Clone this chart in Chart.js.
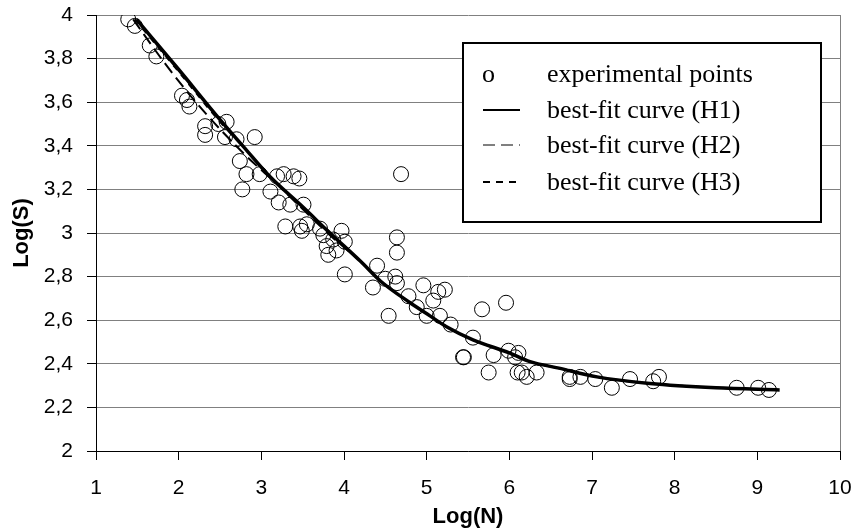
<!DOCTYPE html>
<html>
<head>
<meta charset="utf-8">
<script src="https://cdn.jsdelivr.net/npm/chart.js@4.4.1/dist/chart.umd.min.js"></script>
<style>
  body { margin: 0; background: #fff; }
  #wrap { width: 855px; height: 531px; position: relative; }
</style>
</head>
<body>
<div id="wrap"><canvas id="fatigueChart"></canvas></div>
<script>
// experimental points
var pointsN = [1.39, 1.47, 1.65, 1.73, 2.04, 2.10, 2.13, 2.32, 2.32, 2.48, 2.58, 2.56, 2.70, 2.92,
  2.74, 2.82, 2.98, 2.77, 3.19, 3.27, 3.39, 3.46, 3.11, 3.21, 3.35, 3.51, 3.29, 3.47, 3.49, 3.55,
  3.71, 3.75, 3.87, 3.97, 4.01, 3.79, 3.81, 3.91, 4.01, 4.40, 4.35, 4.69, 4.64, 4.64, 4.50, 4.62,
  4.64, 4.96, 4.78, 4.88, 5.08, 5.14, 5.22, 4.54, 5.00, 5.16, 5.29, 5.67, 5.96, 5.56, 5.44, 5.45,
  5.75, 5.81, 5.99, 6.11, 6.07, 6.10, 6.15, 6.21, 6.33, 6.73, 6.73, 6.86, 7.04, 7.24, 7.46, 7.74,
  7.81, 8.75, 9.01, 9.14];
var pointsS = [3.98, 3.95, 3.86, 3.81, 3.63, 3.61, 3.58, 3.49, 3.45, 3.50, 3.51, 3.44, 3.43, 3.44,
  3.33, 3.27, 3.27, 3.20, 3.26, 3.27, 3.26, 3.25, 3.19, 3.14, 3.13, 3.13, 3.03, 3.03, 3.01, 3.04,
  3.02, 2.99, 2.97, 3.01, 2.96, 2.94, 2.90, 2.92, 2.81, 2.85, 2.75, 3.27, 2.98, 2.91, 2.79, 2.80,
  2.77, 2.76, 2.71, 2.66, 2.69, 2.73, 2.74, 2.62, 2.62, 2.62, 2.58, 2.65, 2.68, 2.52, 2.43, 2.43,
  2.36, 2.44, 2.46, 2.45, 2.43, 2.36, 2.36, 2.34, 2.36, 2.34, 2.33, 2.34, 2.33, 2.29, 2.33, 2.32,
  2.34, 2.29, 2.29, 2.28];

// best-fit curves
var h1N = [1.49, 2.0, 2.5, 2.82, 3.1, 3.5, 3.83, 4.2, 4.44, 4.8, 5.04, 5.24, 5.56, 6.0, 6.25, 6.6, 7.06, 7.7, 8.5, 9.27];
var h1S = [3.98, 3.75, 3.52, 3.38, 3.26, 3.12, 3.00, 2.87, 2.78, 2.68, 2.62, 2.57, 2.51, 2.45, 2.41, 2.38, 2.34, 2.31, 2.29, 2.28];
var h2N = [1.45, 1.85, 2.3, 2.8, 3.2, 3.5, 3.83, 4.2, 4.44, 4.8, 5.04, 5.24, 5.56, 6.0, 6.25, 6.6, 7.06, 7.7, 8.5, 9.25];
var h2S = [3.98, 3.77, 3.56, 3.36, 3.22, 3.11, 2.99, 2.87, 2.78, 2.68, 2.62, 2.57, 2.51, 2.45, 2.41, 2.38, 2.34, 2.31, 2.29, 2.28];
var h3N = [1.47, 2.0, 2.5, 2.82, 3.1, 3.5, 3.83, 4.2, 4.44, 4.8, 5.04, 5.24, 5.56, 6.0, 6.25, 6.6, 7.06, 7.7, 8.5, 9.25];
var h3S = [3.98, 3.74, 3.51, 3.38, 3.26, 3.12, 3.00, 2.87, 2.78, 2.68, 2.62, 2.57, 2.51, 2.45, 2.41, 2.38, 2.34, 2.31, 2.29, 2.28];

var xTickLabels = ['1', '2', '3', '4', '5', '6', '7', '8', '9', '10'];
var yTickLabels = ['2', '2,2', '2,4', '2,6', '2,8', '3', '3,2', '3,4', '3,6', '3,8', '4'];
var legendItems = ['experimental points', 'best-fit curve (H1)', 'best-fit curve (H2)', 'best-fit curve (H3)'];

function xy(xs, ys) {
  return xs.map(function (x, i) { return { x: x, y: ys[i] }; });
}

// legend box drawn inside the plot, like the original
var boxLegend = {
  id: 'boxLegend',
  afterDraw: function (chart) {
    var ctx = chart.ctx;
    ctx.save();
    ctx.fillStyle = '#fff';
    ctx.fillRect(463, 43, 358, 179);
    ctx.strokeStyle = '#000';
    ctx.lineWidth = 2;
    ctx.strokeRect(463, 43, 358, 179);
    ctx.fillStyle = '#000';
    ctx.font = '26px "Liberation Serif", "Times New Roman", serif';
    ctx.textBaseline = 'alphabetic';
    var baselines = [82, 118, 153, 190];
    ctx.fillText('o', 482, baselines[0]);
    for (var i = 0; i < legendItems.length; i++) {
      ctx.fillText(legendItems[i], 547, baselines[i]);
    }
    var dashes = [[], [12, 6], [7, 6]];
    var widths = [2, 1, 2];
    for (var j = 0; j < 3; j++) {
      ctx.beginPath();
      ctx.setLineDash(dashes[j]);
      ctx.lineWidth = widths[j];
      var ly = baselines[j + 1] - 8;
      ctx.moveTo(483, ly);
      ctx.lineTo(520, ly);
      ctx.stroke();
    }
    ctx.restore();
  }
};

var ctx = document.getElementById('fatigueChart').getContext('2d');
var chart = new Chart(ctx, {
  type: 'scatter',
  data: {
    datasets: [
      {
        label: legendItems[1],
        data: xy(h1N, h1S),
        showLine: true,
        borderColor: '#000',
        borderWidth: 3.5,
        pointRadius: 0,
        cubicInterpolationMode: 'monotone',
        order: 1
      },
      {
        label: legendItems[2],
        data: xy(h2N, h2S),
        showLine: true,
        borderColor: '#000',
        borderWidth: 2,
        borderDash: [12, 6],
        pointRadius: 0,
        cubicInterpolationMode: 'monotone',
        order: 2
      },
      {
        label: legendItems[3],
        data: xy(h3N, h3S),
        showLine: true,
        borderColor: '#000',
        borderWidth: 2,
        borderDash: [6, 6],
        pointRadius: 0,
        cubicInterpolationMode: 'monotone',
        order: 3
      },
      {
        label: legendItems[0],
        data: xy(pointsN, pointsS),
        showLine: false,
        pointStyle: 'circle',
        pointRadius: 7.5,
        pointBorderWidth: 1,
        pointBorderColor: '#000',
        pointBackgroundColor: 'rgba(0,0,0,0)',
        order: 4
      }
    ]
  },
  options: {
    responsive: true,
    maintainAspectRatio: false,
    animation: false,
    layout: { padding: { left: 0, right: 15, top: 15, bottom: 0 } },
    plugins: {
      legend: { display: false },
      tooltip: { enabled: false }
    },
    scales: {
      x: {
        type: 'linear',
        min: 1,
        max: 10,
        afterFit: function (s) { s.height = 80; s.paddingLeft = 0; s.paddingRight = 0; },
        border: { color: '#000', width: 1 },
        grid: {
          color: function (c) { return c.tick && c.tick.value === 10 ? '#808080' : 'rgba(0,0,0,0)'; },
          tickColor: '#000',
          tickLength: 9
        },
        ticks: {
          stepSize: 1,
          padding: 16,
          color: '#000',
          maxRotation: 0,
          font: { family: '"Liberation Sans", Arial, sans-serif', size: 21 },
          callback: function (v) { return xTickLabels[Math.round(v - 1)]; }
        },
        title: {
          display: true,
          text: 'Log(N)',
          color: '#000',
          padding: { top: 0, bottom: 1 },
          font: { family: '"Liberation Sans", Arial, sans-serif', size: 22, weight: 'bold' }
        }
      },
      y: {
        type: 'linear',
        min: 2,
        max: 4,
        afterFit: function (s) { s.width = 96; s.paddingTop = 0; s.paddingBottom = 0; },
        border: { color: '#000', width: 1 },
        grid: {
          color: '#808080',
          tickColor: '#000',
          tickLength: 9
        },
        ticks: {
          stepSize: 0.2,
          padding: 14,
          color: '#000',
          font: { family: '"Liberation Sans", Arial, sans-serif', size: 21 },
          callback: function (v) { return yTickLabels[Math.round((v - 2) / 0.2)]; }
        },
        title: {
          display: true,
          text: 'Log(S)',
          color: '#000',
          padding: { top: 9, bottom: 0 },
          font: { family: '"Liberation Sans", Arial, sans-serif', size: 22, weight: 'bold' }
        }
      }
    }
  },
  plugins: [boxLegend]
});
</script>
</body>
</html>
